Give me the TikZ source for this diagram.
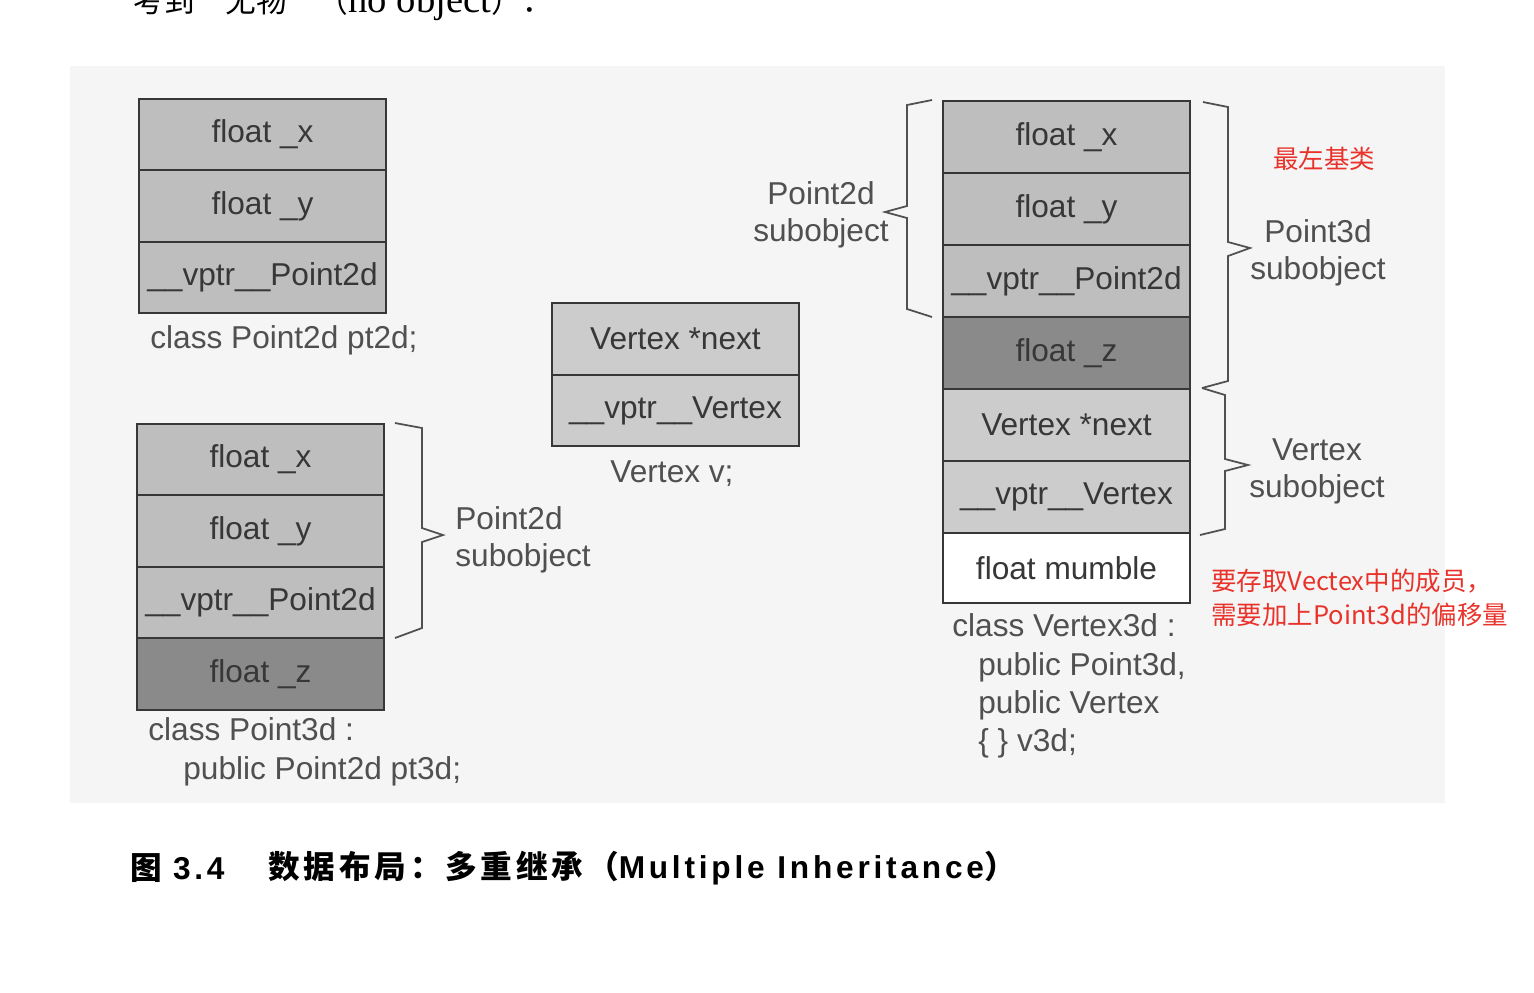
\documentclass[tikz,border=0pt]{standalone}
\usepackage{fontspec}
\setmainfont{Liberation Sans}
\newfontfamily\cjk{Noto Sans CJK SC}
\newfontfamily\toplatin{Liberation Serif}
\newfontfamily\caplatin[LetterSpace=12]{Liberation Sans}
\newfontfamily\capcjk[LetterSpace=12]{Noto Sans CJK SC}
\usepackage{tikz}
\usetikzlibrary{positioning}
\definecolor{panelgray}{RGB}{245,245,245}
\definecolor{fieldgray}{RGB}{190,190,190}
\definecolor{fielddark}{RGB}{138,138,138}
\definecolor{fieldlight}{RGB}{204,204,204}
\definecolor{inkgray}{RGB}{55,55,55}
\definecolor{textgray}{RGB}{80,80,80}
\definecolor{notered}{RGB}{232,50,42}
\tikzstyle{field} = [
    rectangle,
    draw=inkgray,
    line width=1.2pt,
    fill=fieldgray,
    minimum width=4.94cm,
    minimum height=1.43cm,
    inner sep=0pt,
    outer sep=0pt,
    text=inkgray,
    font=\fontsize{18}{22}\selectfont
]
\tikzstyle{zfield} = [field, fill=fielddark]
\tikzstyle{vfield} = [field, fill=fieldlight]
\tikzstyle{mfield} = [field, fill=white]
\tikzstyle{classname} = [
    text=textgray,
    inner sep=0pt,
    align=left,
    font=\fontsize{18}{22}\selectfont
]
\tikzstyle{subname} = [
    text=textgray,
    inner sep=0pt,
    font=\fontsize{18}{21}\selectfont
]
\tikzstyle{brace} = [
    draw=textgray,
    line width=1pt,
    line join=miter
]
\tikzstyle{note} = [
    text=notered,
    inner sep=0pt,
    align=left,
    font=\cjk\fontsize{14.5}{19.3}\selectfont
]
\begin{document}
\begin{tikzpicture}[x=0.02cm, y=-0.02cm]
        \useasboundingbox (0,0) rectangle (1534,992);
        % Cut-off line of the page above
        \node[anchor=base west, inner sep=0pt] (topline) at (133,12)
            {\cjk\fontsize{17.5}{20}\selectfont 考到　无物　（{\toplatin\fontsize{22}{24}\selectfont no object}）．};

        % Panel
        \fill[panelgray] (70,66) rectangle (1445,803);

        % Point2d pt2d
        \node[field] (ax) at (262.5,134.5) {float \_x};
        \node[field, below=0pt of ax] (ay) {float \_y};
        \node[field, below=0pt of ay] (avp) {\_\_vptr\_\_Point2d};
        \node[classname, anchor=west] (acls) at (150,340) {class Point2d pt2d;};

        % Point3d pt3d
        \node[field] (bx) at (260.5,459.5) {float \_x};
        \node[field, below=0pt of bx] (by) {float \_y};
        \node[field, below=0pt of by] (bvp) {\_\_vptr\_\_Point2d};
        \node[zfield, below=0pt of bvp] (bz) {float \_z};
        \node[classname, anchor=west, font=\fontsize{18}{22.1}\selectfont] (bcls) at (148,752)
            {class Point3d :\\\hspace*{0.7cm}public Point2d pt3d;};
        \draw[brace] (395,423) -- (422,428) -- (422,528) -- (443,535) -- (422,542) -- (422,628) -- (395,638);
        \node[subname, anchor=west, align=left] (bsub) at (455,540) {Point2d\\subobject};

        % Vertex v
        \node[vfield] (cnext) at (675.5,339) {Vertex *next};
        \node[vfield, below=0pt of cnext] (cvp) {\_\_vptr\_\_Vertex};
        \node[classname] (ccls) at (672,474) {Vertex v;};

        % Vertex3d v3d
        \node[field, minimum height=1.44cm] (dx) at (1066.5,137) {float \_x};
        \node[field, minimum height=1.44cm, below=0pt of dx] (dy) {float \_y};
        \node[field, minimum height=1.44cm, below=0pt of dy] (dvp) {\_\_vptr\_\_Point2d};
        \node[zfield, minimum height=1.44cm, below=0pt of dvp] (dz) {float \_z};
        \node[vfield, minimum height=1.44cm, below=0pt of dz] (dnext) {Vertex *next};
        \node[vfield, minimum height=1.44cm, below=0pt of dnext] (dvv) {\_\_vptr\_\_Vertex};
        \node[mfield, minimum height=1.40cm, below=0pt of dvv] (dm) {float mumble};
        \node[classname, anchor=west, font=\fontsize{18}{21.8}\selectfont] (dcls) at (952,686)
            {class Vertex3d :\\\hspace*{0.52cm}public Point3d,\\\hspace*{0.52cm}public Vertex\\\hspace*{0.52cm}\{ \} v3d;};

        % Braces round v3d
        \draw[brace] (932,100) -- (907,105) -- (907,206) -- (885,212) -- (907,218) -- (907,309) -- (932,317);
        \node[subname, align=center] (dsub2) at (821,215) {Point2d\\subobject};
        \draw[brace] (1203,102) -- (1228,107) -- (1228,242) -- (1250,248) -- (1228,256) -- (1228,381) -- (1202,388);
        \node[subname, align=center] (dsub3) at (1318,253) {Point3d\\subobject};
        \draw[brace] (1202,388) -- (1225,395) -- (1225,459) -- (1248,465) -- (1225,471) -- (1225,529) -- (1200,535);
        \node[subname, align=center] (dsubv) at (1317,471) {Vertex\\subobject};

        % Notes
        \node[note, anchor=west] (nleft) at (1273,159) {最左基类};
        \node[note, anchor=west] (noffset) at (1211,598) {要存取Vectex中的成员，\\需要加上Point3d的偏移量};

        % Figure caption
        \node[anchor=west, inner sep=0pt] (capnum) at (130,868)
            {\capcjk\fontsize{18}{22}\selectfont\bfseries 图 {\caplatin\bfseries 3.4}};
        \node[anchor=west, inner sep=0pt] (captext) at (268,868)
            {\capcjk\fontsize{18}{22}\selectfont\bfseries 数据布局：多重继承（{\caplatin\bfseries Multiple Inheritance}）};
    \end{tikzpicture}
\end{document}
